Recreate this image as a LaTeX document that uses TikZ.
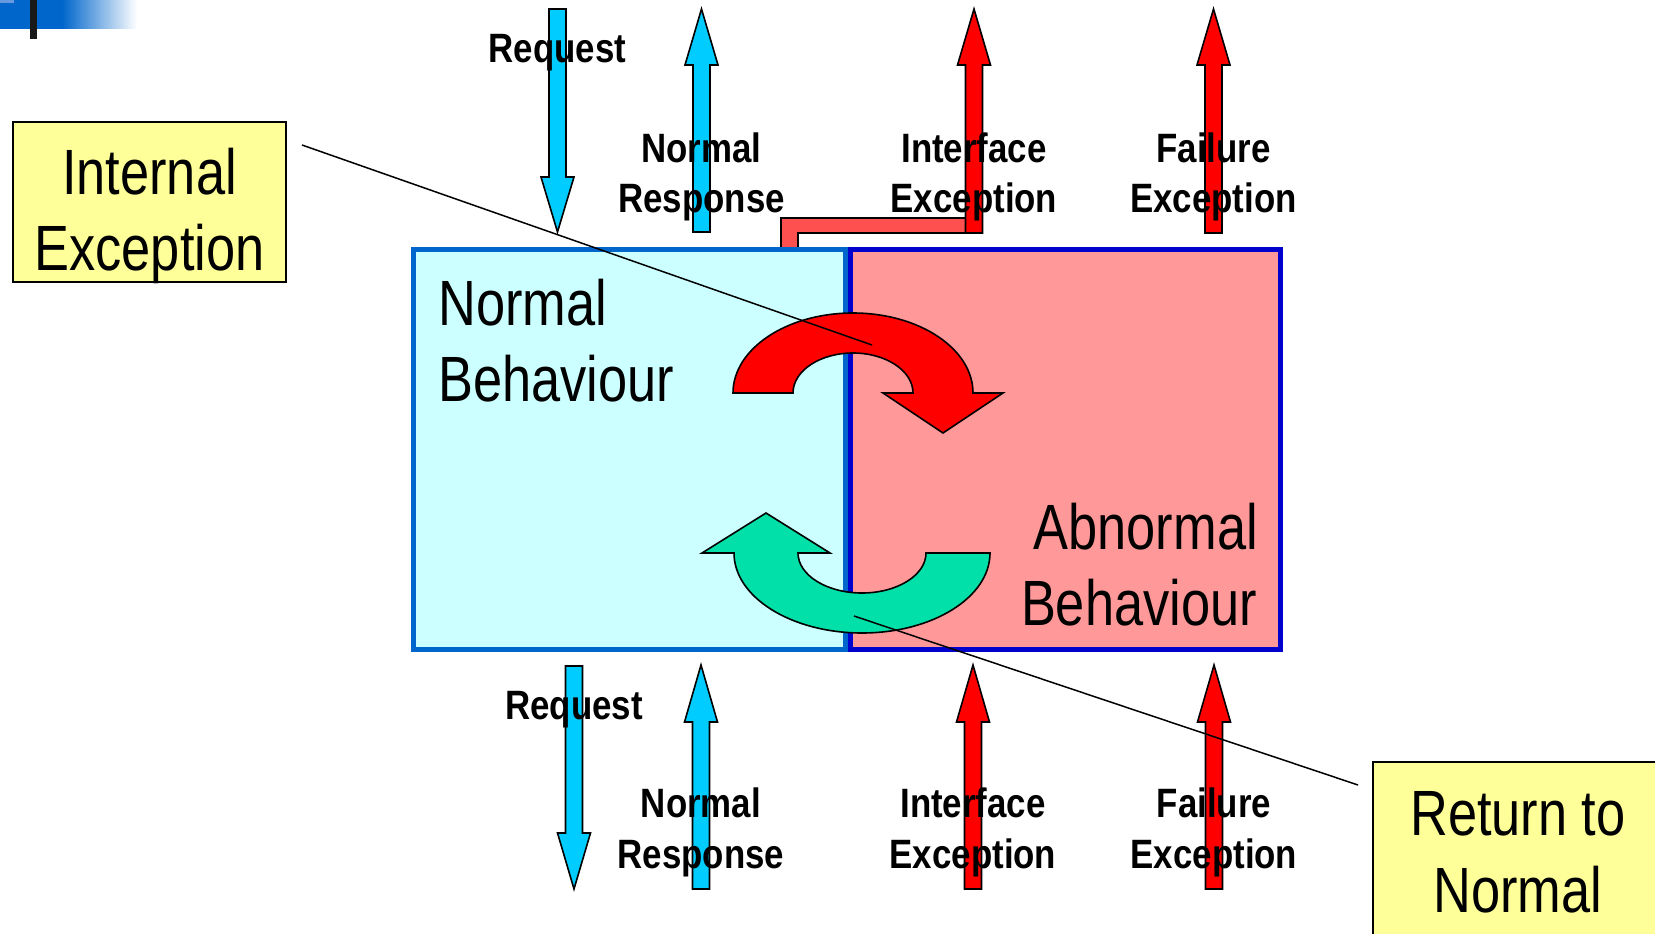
\documentclass[tikz,border=0pt]{standalone}
\usepackage{fontspec}
\setmainfont{Liberation Sans}
\newfontfamily\narrowfont[FakeStretch=0.818]{Liberation Sans}
\newfontfamily\labelfont[FakeStretch=0.85]{Liberation Sans}

\definecolor{normalfill}{HTML}{CCFFFF}
\definecolor{normaledge}{HTML}{0066CC}
\definecolor{abnfill}{HTML}{FF9999}
\definecolor{abnedge}{HTML}{0000CC}
\definecolor{flowcyan}{HTML}{00CCFF}
\definecolor{flowred}{HTML}{FF0000}
\definecolor{linkred}{HTML}{FF5050}
\definecolor{notefill}{HTML}{FFFF99}
\definecolor{returngreen}{HTML}{00E0A8}
\definecolor{barblue}{HTML}{0066CC}
\definecolor{barlight}{HTML}{6699DD}

% vertical block arrow: fill, x centre, tail y, head-base y, tip y
\newcommand\blockarrow[5]{%
  \filldraw[outline, fill=#1] ({#2-8.5},#3) -- ({#2-8.5},#4) -- ({#2-16.5},#4)
    -- (#2,#5) -- ({#2+16.5},#4) -- ({#2+8.5},#4) -- ({#2+8.5},#3) -- cycle;}

\begin{document}
\begin{tikzpicture}[x=1pt,y=-1pt,
  bigtext/.style={font=\narrowfont\fontsize{64}{76}\selectfont, inner sep=0pt},
  flowtext/.style={font=\labelfont\bfseries\fontsize{41}{50}\selectfont, inner sep=0pt, anchor=base},
  outline/.style={draw=black, line width=1.6pt, line join=miter},
  statebox/.style={line width=5pt, inner sep=0pt, outer sep=0pt, anchor=north west, minimum height=400pt},
  notebox/.style={draw=black, fill=notefill, line width=1.5pt, inner sep=0pt, outer sep=0pt, anchor=north west},
  pointer/.style={draw=black, line width=1.5pt}]

\clip (0,0) rectangle (1655,934);
\fill[white] (0,0) rectangle (1655,934);

% title bar ornament
\fill[barblue] (0,0) rectangle (62,29);
\shade[left color=barblue, right color=white] (62,0) rectangle (137,29);
\fill[barlight] (0,0) rectangle (14,3);
\fill[black!90] (30,0) rectangle (37,39);

% link from normal behaviour to interface exception
\filldraw[outline, fill=linkred] (781,250) -- (781,218) -- (967,218) -- (967,233)
  -- (798,233) -- (798,250) -- cycle;

% behaviour regions
\node[statebox, draw=normaledge, fill=normalfill, minimum width=432pt] (normalbox) at (413.5,249.5) {};
\node[statebox, draw=abnedge, fill=abnfill, minimum width=430pt] (abnbox) at (850.5,249.5) {};

\node[bigtext, anchor=base west] (nbA) at (438,325) {Normal};
\node[bigtext, anchor=base west] (nbB) at (438,401) {Behaviour};
\node[bigtext, anchor=base east] (abA) at (1258,549) {Abnormal};
\node[bigtext, anchor=base east] (abB) at (1257,625) {Behaviour};

% interface flows, upper side
\blockarrow{flowcyan}{557.5}{9}{177}{232}
\blockarrow{flowcyan}{701.5}{232}{65}{9}
\blockarrow{flowred}{974}{233}{65}{9}
\blockarrow{flowred}{1213.5}{233}{65}{9}

% interface flows, lower side
\blockarrow{flowcyan}{574}{666}{833}{889}
\blockarrow{flowcyan}{701}{889}{722}{665}
\blockarrow{flowred}{973}{889}{722}{665}
\blockarrow{flowred}{1214}{889}{722}{665}

\node[flowtext] (reqT) at (557.5,63) {Request};
\node[flowtext] (nrTA) at (701.5,162) {Normal};
\node[flowtext] (nrTB) at (701.5,212) {Response};
\node[flowtext] (ieTA) at (974,162) {Interface};
\node[flowtext] (ieTB) at (974,212) {Exception};
\node[flowtext] (feTA) at (1213.5,162) {Failure};
\node[flowtext] (feTB) at (1213.5,212) {Exception};

\node[flowtext] (reqB) at (574,719) {Request};
\node[flowtext] (nrBA) at (701,817) {Normal};
\node[flowtext] (nrBB) at (701,868) {Response};
\node[flowtext] (ieBA) at (973,817) {Interface};
\node[flowtext] (ieBB) at (973,868) {Exception};
\node[flowtext] (feBA) at (1214,817) {Failure};
\node[flowtext] (feBB) at (1214,868) {Exception};

% transition into abnormal behaviour
\filldraw[outline, fill=flowred] (733,393)
  arc[start angle=180, end angle=360, x radius=120, y radius=80]
  -- (1003,393) -- (943,433) -- (883,393) -- (913,393)
  arc[start angle=360, end angle=180, x radius=60, y radius=40]
  -- cycle;

% transition back to normal behaviour
\filldraw[outline, fill=returngreen] (990,553) -- (926,553)
  arc[start angle=0, end angle=180, x radius=64, y radius=40]
  -- (830,553) -- (766,513) -- (702,553) -- (734,553)
  arc[start angle=180, end angle=0, x radius=128, y radius=80]
  -- cycle;

% notes
\node[notebox, minimum width=273pt, minimum height=160pt] (intbox) at (13,122) {};
\node[bigtext, anchor=base] (intA) at (149.5,194) {Internal};
\node[bigtext, anchor=base] (intB) at (149.5,270) {Exception};

\node[notebox, minimum width=290pt, minimum height=250pt] (retbox) at (1373,762) {};
\node[bigtext, anchor=base] (retA) at (1518,835) {Return to};
\node[bigtext, anchor=base] (retB) at (1518,912) {Normal};

\coordinate (intfrom) at (302,145);
\coordinate (intto) at (872,345);
\coordinate (retfrom) at (1358,785);
\coordinate (retto) at (854,616);
\draw[pointer] (intfrom) -- (intto);
\draw[pointer] (retfrom) -- (retto);
\end{tikzpicture}
\end{document}
